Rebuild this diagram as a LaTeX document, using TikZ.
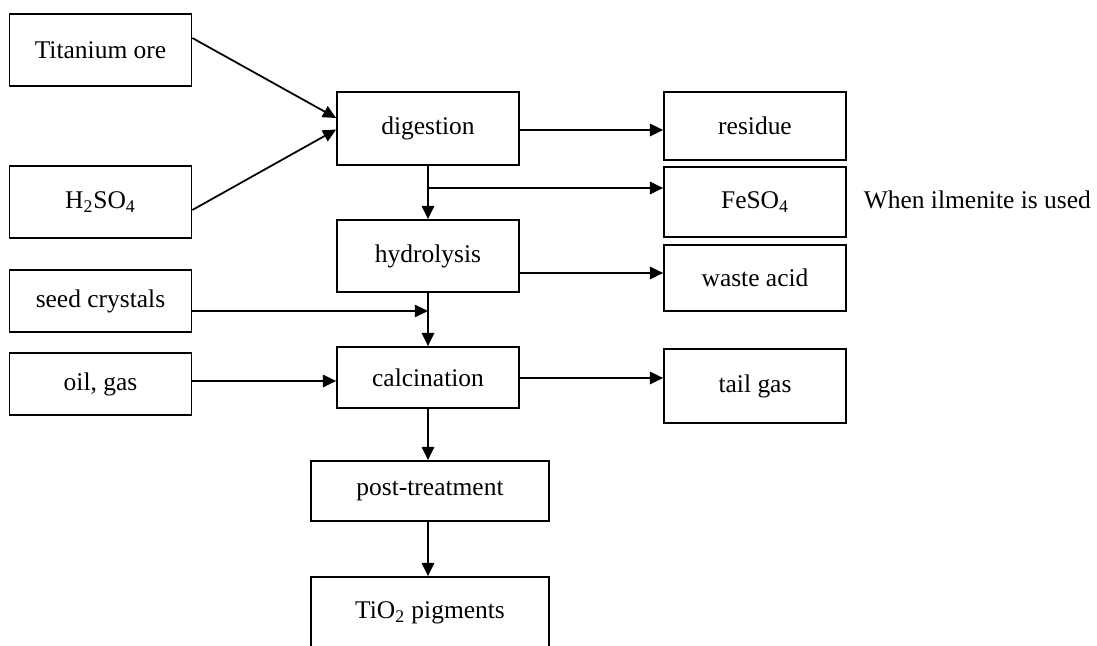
\documentclass[tikz,border=0pt]{standalone}
\usepackage{fontspec}
\setmainfont{Liberation Serif}
\usetikzlibrary{arrows.meta}
\begin{document}
\begin{tikzpicture}[x=0.02cm,y=-0.02cm,line width=1pt,>={Triangle[length=7.5pt,width=7pt]},
  main node/.style={draw,minimum width=3.64cm,minimum height=1.44cm,inner sep=0pt,font=\fontsize{14.5}{17}\selectfont},
  wide node/.style={main node,minimum width=4.76cm}]
                \clip (0,0) rectangle (1097,645);
                \node[main node] at (100.5,50) (ore) {Titanium ore};
                \node[main node] at (100.5,202) (acid) {H\textsubscript{2}SO\textsubscript{4}};
                \node[main node,minimum height=1.24cm] at (100.5,301) (seed) {seed crystals};
                \node[main node,minimum height=1.24cm] at (100.5,384) (oil) {oil, gas};

                \node[main node,minimum height=1.46cm] at (428,128.5) (dig) {digestion};
                \node[main node] at (428,256) (hyd) {hydrolysis};
                \node[main node,minimum height=1.22cm] at (428,377.5) (calc) {calcination};
                \node[wide node,minimum height=1.2cm] at (430,491) (post) {post-treatment};
                \node[wide node] at (430,613) (tio) {TiO\textsubscript{2} pigments};

                \node[main node,minimum height=1.36cm] at (755,126) (res) {residue};
                \node[main node,minimum height=1.4cm] at (755,202) (fe) {FeSO\textsubscript{4}};
                \node[main node,minimum height=1.32cm] at (755,278) (waste) {waste acid};
                \node[main node,minimum height=1.48cm] at (755,386) (tail) {tail gas};
                \node[anchor=west,font=\fontsize{14.5}{17}\selectfont] at (857,200) (note) {When ilmenite is used};

                \draw[->] ([yshift=0.24cm]ore.east) -- ([yshift=0.21cm]dig.west);
                \draw[->] ([yshift=-0.16cm]acid.east) -- ([yshift=-0.02cm]dig.west);
                \draw[->] ([yshift=-0.03cm]dig.east) -- ([yshift=-0.03cm]dig.east -| res.west);
                \draw[->] (dig) -- (hyd);
                \coordinate (split) at (428,188);
                \draw[->] (split) -- (split -| fe.west);
                \draw[->] ([yshift=-0.34cm]hyd.east) -- ([yshift=-0.34cm]hyd.east -| waste.west);
                \draw[->] (hyd) -- (calc);
                \draw[->] ([yshift=-0.2cm]seed.east) -- ([yshift=-0.2cm]seed.east -| hyd.south);
                \draw[->] ([yshift=0.06cm]oil.east) -- ([yshift=0.06cm]oil.east -| calc.west);
                \draw[->] ([yshift=-0.01cm]calc.east) -- ([yshift=-0.01cm]calc.east -| tail.west);
                \draw[->] (calc.south) -- (post.north -| calc.south);
                \draw[->] (post.south -| calc.south) -- (tio.north -| calc.south);
\end{tikzpicture}
\end{document}
